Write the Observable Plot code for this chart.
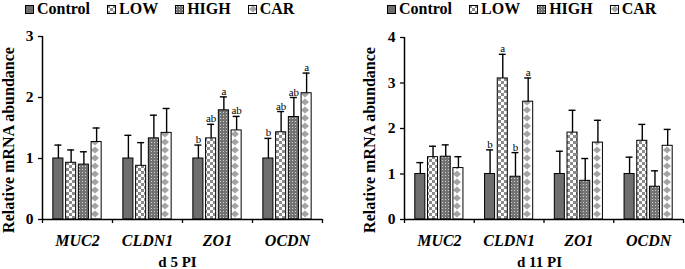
<!DOCTYPE html>
<html>
<head>
<meta charset="utf-8">
<script src="https://cdn.jsdelivr.net/npm/d3@7"></script>
<script src="https://cdn.jsdelivr.net/npm/@observablehq/plot@0.6"></script>
<style>
  body { margin: 0; background: white; font-family: "Liberation Serif", "Times New Roman", serif; }
  #page { position: relative; width: 685px; height: 269px; overflow: hidden; }
  .col { position: absolute; top: 0; }
  .legend { height: 18px; display: flex; align-items: center; gap: 17px; font-weight: bold; font-size: 16px; line-height: 16px; white-space: nowrap; }
  .legend .item { display: flex; align-items: center; }
  .legend svg { margin-right: 3px; }
</style>
</head>
<body>
<svg width="0" height="0" style="position:absolute">
  <defs>
    <pattern id="pLow" width="6" height="6" patternUnits="userSpaceOnUse">
      <rect width="6" height="6" fill="white"/>
      <rect x="0" y="0" width="3" height="3" fill="#8c8c8c"/>
      <rect x="3" y="3" width="3" height="3" fill="#8c8c8c"/>
    </pattern>
    <pattern id="pHigh" width="3" height="3" patternUnits="userSpaceOnUse">
      <rect width="3" height="3" fill="#737373"/>
      <rect x="1" y="1" width="1" height="1" fill="#cfcfcf"/>
    </pattern>
    <pattern id="pCar" width="10" height="8" patternUnits="userSpaceOnUse">
      <rect width="10" height="8" fill="white"/>
      <polygon points="5,0.5 9,4 5,7.5 1,4" fill="#a4a4a4"/>
    </pattern>
  </defs>
</svg>
<div id="page">
  <div class="col" id="left" style="left:0;width:342px"></div>
  <div class="col" id="right" style="left:342px;width:343px"></div>
</div>
<script>
// ---------- data ----------
const genes = ["MUC2", "CLDN1", "ZO1", "OCDN"];
const groups = ["Control", "LOW", "HIGH", "CAR"];

// Day 5 PI: means and upper error bar ends
const d5Control = [1.00, 1.00, 1.00, 1.00];
const d5Low     = [0.93, 0.88, 1.33, 1.43];
const d5High    = [0.90, 1.33, 1.79, 1.68];
const d5Car     = [1.27, 1.42, 1.46, 2.07];
const d5ControlUp = [1.22, 1.38, 1.22, 1.33];
const d5LowUp     = [1.14, 1.26, 1.56, 1.77];
const d5HighUp    = [1.11, 1.71, 2.01, 2.00];
const d5CarUp     = [1.50, 1.82, 1.69, 2.40];
const d5ControlSig = ["", "", "b", "b"];
const d5LowSig     = ["", "", "ab", "ab"];
const d5HighSig    = ["", "", "a", "ab"];
const d5CarSig     = ["", "", "ab", "a"];

// Day 11 PI
const d11Control = [1.00, 1.00, 1.00, 1.00];
const d11Low     = [1.37, 3.10, 1.91, 1.73];
const d11High    = [1.38, 0.94, 0.85, 0.72];
const d11Car     = [1.13, 2.59, 1.69, 1.62];
const d11ControlUp = [1.25, 1.53, 1.50, 1.37];
const d11LowUp     = [1.61, 3.63, 2.40, 2.09];
const d11HighUp    = [1.64, 1.47, 1.34, 1.07];
const d11CarUp     = [1.38, 3.11, 2.18, 1.98];
const d11ControlSig = ["", "b", "", ""];
const d11LowSig     = ["", "a", "", ""];
const d11HighSig    = ["", "b", "", ""];
const d11CarSig     = ["", "a", "", ""];

const d5Ticks = [0, 1, 2, 3];
const d11Ticks = [0, 1, 2, 3, 4];
const yTitle = "Relative mRNA abundance";

// ---------- styles ----------
const fills = ["#6e6e6e", "url(#pLow)", "url(#pHigh)", "url(#pCar)"];
const font = "'Liberation Serif', 'Times New Roman', serif";

function buildRows(vals, ups, sigs) {
  const rows = [];
  groups.forEach((g, k) => {
    genes.forEach((gene, i) => {
      rows.push({gene, gi: i, group: g, value: vals[k][i], upper: ups[k][i], letter: sigs[k][i]});
    });
  });
  return rows;
}

const inner = d3.scaleBand(groups, [0.155, 0.845]).paddingInner(0.21);
const bx1 = d => d.gi + inner(d.group);
const bx2 = d => d.gi + inner(d.group) + inner.bandwidth();
const bxc = d => d.gi + inner(d.group) + inner.bandwidth() / 2;
const cap = 0.05;

function chart({rows, ticks, width, marginLeft, marginRight, marginTop, title, titleDx, yTitleDx, yTitleDy}) {
  const ymax = ticks[ticks.length - 1];
  return Plot.plot({
    width, height: 251,
    marginLeft, marginRight, marginTop, marginBottom: 50,
    style: {fontFamily: font, fontSize: "15px", fontWeight: "bold", color: "black", background: "white", overflow: "visible"},
    x: {domain: [0, genes.length]},
    y: {domain: [0, ymax]},
    color: {type: "ordinal", domain: groups, range: fills},
    marks: [
      Plot.rectY(rows, {x1: bx1, x2: bx2, y1: 0, y2: "value", fill: "group", stroke: "black", strokeWidth: 1}),
      Plot.ruleX(rows, {x: bxc, y1: "value", y2: "upper", stroke: "black", strokeWidth: 1.4}),
      Plot.ruleY(rows, {y: "upper", x1: d => bxc(d) - cap, x2: d => bxc(d) + cap, stroke: "black", strokeWidth: 1.4}),
      Plot.text(rows.filter(d => d.letter), {x: bxc, y: "upper", text: "letter", lineAnchor: "bottom", dy: -2, fontSize: 11, fontWeight: "normal", fill: "black"}),
      Plot.ruleX([0], {stroke: "black", strokeWidth: 1.5}),
      Plot.ruleY([0], {stroke: "black", strokeWidth: 1.5}),
      Plot.axisY({ticks, tickSize: 4, tickPadding: 5, tickFormat: d => d, label: null, strokeWidth: 1.3, fontSize: 15.5, fontWeight: "bold", fill: "black"}),
      Plot.axisX({ticks: d3.range(genes.length + 1), tickSize: 4, tickFormat: () => "", label: null, strokeWidth: 1.3}),
      Plot.axisX({ticks: genes.map((g, i) => i + 0.5), tickSize: 0, tickPadding: 15, tickFormat: t => genes[Math.floor(t)], label: null, fontStyle: "italic", fontWeight: "bold", fontSize: 16, fill: "black"}),
      Plot.text([title], {frameAnchor: "bottom", dy: 42.5, dx: titleDx, textAnchor: "middle", lineAnchor: "middle", fontSize: 15, fontWeight: "bold", fill: "black"}),
      Plot.text([yTitle], {frameAnchor: "left", rotate: -90, dx: yTitleDx, dy: yTitleDy, textAnchor: "middle", lineAnchor: "middle", fontSize: 16, fontWeight: "bold", fill: "black"})
    ]
  });
}

function legend(left) {
  const div = document.createElement("div");
  div.className = "legend";
  div.style.paddingLeft = left + "px";
  groups.forEach((g, k) => {
    const item = document.createElement("span");
    item.className = "item";
    item.innerHTML = `<svg width="9" height="9"><rect x="0.5" y="0.5" width="8" height="8" fill="${fills[k]}" stroke="black" stroke-width="1"/></svg><span>${g}</span>`;
    div.appendChild(item);
  });
  return div;
}

const d5Rows = buildRows([d5Control, d5Low, d5High, d5Car], [d5ControlUp, d5LowUp, d5HighUp, d5CarUp], [d5ControlSig, d5LowSig, d5HighSig, d5CarSig]);
const d11Rows = buildRows([d11Control, d11Low, d11High, d11Car], [d11ControlUp, d11LowUp, d11HighUp, d11CarUp], [d11ControlSig, d11LowSig, d11HighSig, d11CarSig]);

const leftEl = document.getElementById("left");
leftEl.appendChild(legend(25));
leftEl.appendChild(chart({rows: d5Rows, ticks: d5Ticks, width: 342, marginLeft: 42, marginRight: 20, marginTop: 18, title: "d 5 PI", titleDx: -5, yTitleDx: -34, yTitleDy: 12}));

const rightEl = document.getElementById("right");
rightEl.appendChild(legend(45));
rightEl.appendChild(chart({rows: d11Rows, ticks: d11Ticks, width: 343, marginLeft: 62, marginRight: 2, marginTop: 19, title: "d 11 PI", titleDx: -4.5, yTitleDx: -35, yTitleDy: 11.5}));
</script>
</body>
</html>
